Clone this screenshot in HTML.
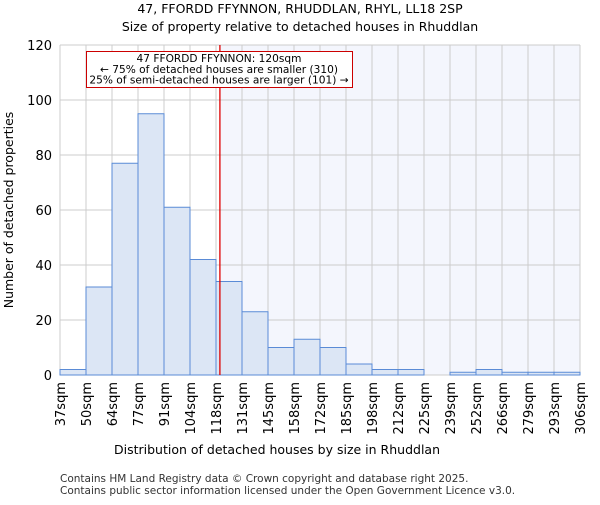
<!DOCTYPE html>
<html><head><meta charset="utf-8"><style>body{margin:0;background:#fff}svg{font-family:"DejaVu Sans","Liberation Sans",sans-serif}</style></head>
<body>
<svg id="c" width="600" height="500" viewBox="0 0 600 500">
<text x="300" y="13" text-anchor="middle" font-size="12.5">47, FFORDD FFYNNON, RHUDDLAN, RHYL, LL18 2SP</text>
<text x="300" y="31" text-anchor="middle" font-size="12.5">Size of property relative to detached houses in Rhuddlan</text>
<g id="plot"></g>
<text x="277" y="454" text-anchor="middle" font-size="12.5">Distribution of detached houses by size in Rhuddlan</text>
<text transform="translate(13,210) rotate(-90)" text-anchor="middle" font-size="12.5">Number of detached properties</text>
<text x="60" y="482" font-size="10.5" fill="#333">Contains HM Land Registry data © Crown copyright and database right 2025.</text>
<text x="60" y="494" font-size="10.5" fill="#333">Contains public sector information licensed under the Open Government Licence v3.0.</text>
</svg>
<script>
const categories=["37sqm","50sqm","64sqm","77sqm","91sqm","104sqm","118sqm","131sqm","145sqm","158sqm","172sqm","185sqm","198sqm","212sqm","225sqm","239sqm","252sqm","266sqm","279sqm","293sqm","306sqm"];
const counts=[2,32,77,95,61,42,34,23,10,13,10,4,2,2,0,1,2,1,1,1];
const yTicks=[0,20,40,60,80,100,120];
const propertyIndex=6.15;
const NS="http://www.w3.org/2000/svg";
const g=document.getElementById('plot');
const X0=60,X1=580,Y0=375,Y1=45,YMAX=120;
const bw=(X1-X0)/counts.length;
const xs=i=>X0+i*bw;
const ys=v=>Y0-(v/YMAX)*(Y0-Y1);
function mk(t,a){const e=document.createElementNS(NS,t);for(const k in a)e.setAttribute(k,a[k]);g.appendChild(e);return e;}
const px=xs(propertyIndex);
let e=mk('rect',{x:px,y:Y1,width:X1-px,height:Y0-Y1,fill:'#f4f6fd'});


yTicks.forEach(t=>{const l=mk('line',{x1:X0,x2:X1,y1:ys(t),y2:ys(t),stroke:'#ccc'});


const tx=mk('text',{x:X0-8,y:ys(t)+5,'text-anchor':'end','font-size':'13'});tx.textContent=t;

});
categories.forEach((c,i)=>{const l=mk('line',{x1:xs(i),x2:xs(i),y1:Y1,y2:Y0,stroke:'#ccc'});


const t=mk('text',{transform:`translate(${xs(i)+5},382) rotate(-90)`,'text-anchor':'end','font-size':'13'});t.textContent=c;

});
counts.forEach((v,i)=>{const r=mk('rect',{x:xs(i),y:ys(v),width:bw,height:Y0-ys(v),fill:'#dce6f5',stroke:'#5a8bd6','stroke-width':1});

});
e=mk('line',{x1:px,x2:px,y1:Y1,y2:Y0,stroke:'#d00','stroke-width':1.3});


e=mk('rect',{x:86.5,y:51.5,width:266,height:36,fill:'#fff',stroke:'#c00'});


["47 FFORDD FFYNNON: 120sqm","← 75% of detached houses are smaller (310)","25% of semi-detached houses are larger (101) →"].forEach((s,i)=>{const t=mk('text',{x:219,y:62+i*10.8,'text-anchor':'middle','font-size':'10.6'});t.textContent=s;

});
</script>
</body></html>
